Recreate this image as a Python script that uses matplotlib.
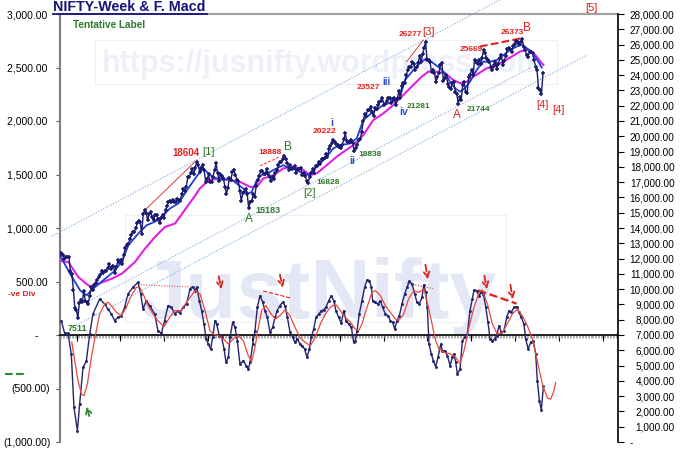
import numpy as np
import matplotlib.pyplot as plt

plt.rcParams['font.family'] = ['Liberation Sans', 'DejaVu Sans']

# weekly close of NIFTY, first point = week of 10 Jan 2020 (week index 0)
price = [12257, 12352, 12248, 11962, 12098, 12113, 12080, 11202, 10989, 9955,
         8745, 8660, 8084, 9112, 9267, 9154, 9860, 9252, 9137, 9040,
         9580, 10142, 9973, 10244, 10383, 10608, 10768, 10902, 11194, 11073,
         11214, 11178, 11372, 11647, 11333, 11464, 11505, 11050, 11417, 11914,
         11762, 11930, 11642, 12263, 12720, 12859, 12969, 13258, 13514, 13760,
         13749, 13982,
         14347, 14433, 14372, 13635, 14924, 15163, 14982, 14529, 14938, 15031,
         14744, 14507, 14867, 14834, 14617, 14341, 14631, 14823, 14678, 15175,
         15436, 15670, 15799, 15683, 15860, 15722, 15690, 15924, 15856, 15763,
         16238, 16529, 16450, 16705, 17324, 17369, 17585, 17853, 17532, 17895,
         18339, 18114, 17672, 17916, 18102, 17765, 17026, 17196, 17511, 16985,
         17004, 17354,
         17812, 18256, 17617, 17102, 17516, 17375, 17276, 16658, 16246, 16630,
         17287, 17153, 17670, 17784, 17476, 17172, 17102, 16411, 15782, 16266,
         16352, 16584, 16202, 15293, 15699, 15752, 16220, 16049, 16719, 17158,
         17398, 17698, 17758, 17559, 17539, 17833, 17531, 17327, 17094, 17315,
         17186, 17576, 17787, 18117, 18350, 18308, 18512, 18696, 18497, 18269,
         17806, 18105,
         17859, 17956, 18027, 17604, 17854, 17856, 17944, 17465, 17594, 17413,
         17100, 16945, 17360, 17599, 17828, 17624, 18065, 18069, 18315, 18203,
         18499, 18534, 18563, 18826, 18665, 19189, 19332, 19564, 19745, 19646,
         19517, 19428, 19310, 19265, 19435, 19820, 20192, 19674, 19638, 19653,
         19751, 19542, 19047, 19230, 19425, 19732, 19795, 20268, 20969, 21457,
         21349, 21731,
         21711, 21895, 21572, 21353, 21854, 21783, 22041, 22213, 22339, 22494,
         22023, 22097, 22327, 22514, 22519, 22147, 22420, 22476, 22055, 22467,
         22957, 22531, 23290, 23466, 23501, 24011, 24324, 24502, 24531, 24835,
         24718, 24368, 24541, 24823, 25236, 24852, 25357, 25791, 26179, 25015,
         24964, 24854, 24181, 24305, 24148, 23533, 23907, 24131, 24678, 24768,
         23588, 23814,
         24005, 23432, 23203, 23092, 23508, 23560, 22929, 22796, 22125, 22553,
         22397, 23350, 23519, 22904, 22829, 23852, 24039, 24347, 24008, 25020,
         24853, 24751, 25003, 24719, 25112, 25638, 25461, 25150, 24968, 24837,
         24565, 24363, 24631, 24870, 24427, 24741, 25114, 25327, 24655, 24894,
         25285, 25710, 25795, 25722, 25492, 25910, 26068, 26203, 26186, 26050,
         26150, 26370,
         25870, 25650, 25320, 25210, 25540, 25540, 25430, 25000, 24560, 24340,
         23140, 23030, 22770, 24120]
week = np.arange(len(price))

# short average (blue)
fast_wk = [0, 6.7, 13.5, 18, 21.3, 26.9, 35.9, 41.5, 46, 52.7, 58.3, 66.1, 74, 79.6,
           86.3, 92.5, 96.4, 100.9, 105.4, 109.9, 114.4, 118.9, 123.3, 126.7, 129,
           132.4, 136.8, 141.3, 145.8, 150.3, 154.8, 159.3, 163.7, 167.1, 170.5, 175,
           179.5, 183.9, 188.4, 195.2, 199.7, 204.1, 210.8, 217.6, 224.3, 228.8,
           232.2, 237.8, 243.4, 246.8, 251.2, 255.7, 259.1, 262.4, 265.8, 269.2,
           272.5, 275.9, 280.4, 284.9, 289.4, 293.9, 298.5, 303, 307.3, 310.7,
           314.1, 317.4, 319.6, 321.9, 324.2]
fast_val = [12215, 11015, 9920, 9594, 9950, 10400, 11120, 11780, 12870, 13640, 14180,
            14510, 15280, 15600, 16590, 17450, 17900, 17460, 17240, 17130, 17240,
            16910, 16590, 16260, 16360, 17130, 17570, 17670, 17900, 18110, 17900,
            17790, 17570, 17460, 17790, 18220, 18660, 19210, 19420, 19530, 19860,
            21060, 21610, 22040, 22260, 22590, 23680, 24340, 24880, 25110, 24780,
            24450, 24120, 23570, 23140, 22920, 23140, 23570, 24340, 24880, 24880,
            24990, 25320, 25650, 25870, 25980, 25760, 25540, 25210, 24880, 24500]

# long average (magenta)
slow_wk = [0, 5.6, 12.3, 19, 22, 26.1, 35, 41.7, 50.5, 57.2, 63.9, 70.6, 77.4, 84.1,
           90.8, 94.2, 97.6, 100.9, 107.7, 114.4, 121.1, 127.9, 132.4, 136.8, 143.6,
           150.3, 157.1, 163.8, 168.2, 172.7, 179.5, 186.2, 190.7, 197.4, 204.1,
           210.8, 217.6, 224.3, 231, 237.8, 243.4, 247.9, 253.5, 259.1, 264.7, 269.2,
           273.7, 278.2, 281.5, 287.1, 292.7, 298.3, 303.9, 309.5, 314.1, 317.4,
           320.8, 324.2, 325.3]
slow_val = [11850, 11780, 10790, 10250, 10150, 10360, 10690, 11020, 11780, 12650,
            13410, 14070, 14290, 15200, 16100, 16600, 16900, 17150, 17240, 17130,
            17020, 16690, 16690, 17240, 17460, 17900, 18000, 17790, 17460, 17570,
            18110, 18660, 18980, 19420, 20080, 21060, 21500, 22040, 22700, 23360,
            23900, 24230, 24230, 24120, 23680, 23470, 23570, 23900, 24100, 24450,
            24560, 24880, 25210, 25540, 25650, 25540, 25210, 24770, 24670]

# MACD (navy) and signal (red), left scale
macd_wk = [0.9, 3.1, 5.4, 7.6, 9.4, 11.7, 13.2, 15.5, 17.7, 20,
           22.2, 26.7, 30, 32.3, 34.5, 36.8, 39, 41.3, 43.5, 45.8,
           49.1, 52.5, 54.3, 55.9, 58.1, 60.3, 63.7, 65.9, 68.2, 70.4,
           72.7, 74.9, 77.2, 79.4, 80.8, 83, 85.2, 87.5, 89.3, 90.8,
           92, 93.8, 95.3, 96.9, 98.3, 99.8, 101.4, 102.7, 104.3, 105.4,
           107.2, 108.8, 110.4, 111.7, 113.3, 114.4, 116.2, 117.8, 119.3, 121.1,
           123.4, 125.2, 126.7, 127.9, 129.7, 131.2, 132.8, 134.6, 136.4, 138,
           139.5, 141.3, 143.1, 144.7, 146.2, 148, 149.8, 151.4, 153, 154.8,
           156.6, 158.1, 159.7, 161.5, 162.9, 164.6, 166.2, 167.8, 169.1, 170.7,
           172.3, 174.1, 175.9, 177.4, 179, 180.8, 182.6, 184.2, 185.7, 187.5,
           189.3, 190.9, 192.5, 194.3, 196.1, 197.6, 198.7, 199.9, 201.4, 203.2,
           205, 206.6, 208.2, 209.5, 210.4, 212.2, 214, 215.6, 217.1, 218.9,
           220.7, 222.3, 223.9, 225.2, 226.8, 228.4, 230.1, 232, 233.5, 235.1,
           236.9, 238.7, 240.2, 241.8, 243.6, 244.8, 246.1, 247.2, 248.3, 249.9,
           251.2, 252.8, 254.4, 256.2, 257.3, 258.9, 260.7, 262.5, 264, 265.1,
           266.3, 267.4, 269.2, 270.8, 272.3, 274.1, 275.9, 277.5, 278.6, 280.4,
           282, 283.5, 284.9, 286.5, 288, 289.4, 291, 292.5, 293.9, 295.4,
           297, 298.8, 300.6, 302.2, 303.7, 305.5, 307.3, 308.9, 310.4, 312.2,
           313.4, 315, 316.8, 318.5, 320.1, 321.2, 322.6, 323.9, 325.3]
macd_val = [134, 16, 16, -178, -677, -895, -646, -303, -246, 9,
            197, 337, 290, 243, 197, 134, 165, 181, 259, 384,
            446, 493, 384, 243, 321, 275, 197, 41, 16, 134,
            275, 259, 197, 228, 210, 259, 290, 431, 452, 415,
            446, 321, 228, 103, -37, -84, -131, -22, 134, 103,
            -6, -22, -131, -256, -209, -22, 119, 72, -53, -271,
            -240, -287, -318, -256, -84, 41, 259, 368, 306, 228,
            165, 25, 72, 165, 228, 275, 306, 275, 165, 25,
            -22, -69, -37, -84, -100, -131, -209, -131, -22, 56,
            165, 197, 228, 234, 259, 321, 368, 321, 228, 165,
            109, 228, 134, 103, 72, -69, -53, 41, 197, 321,
            446, 515, 509, 446, 321, 306, 290, 321, 259, 197,
            181, 134, 119, 56, 134, 181, 290, 384, 446, 502,
            477, 384, 306, 290, 353, 470, 400, 259, -84, -178,
            -240, -296, -209, -84, -147, -147, -193, -287, -209, -178,
            -256, -365, -318, -53, -22, 9, 228, 337, 421, 415,
            368, 399, 384, 259, 119, -37, -53, -37, -6, 87,
            25, 41, 165, 228, 212, 259, 265, 212, 165, 103,
            -37, -131, -69, -53, -178, -427, -615, -700, -480]

sig_wk = [7.9, 12.1, 14.4, 16.2, 18.4, 21.1, 23.8, 26.7, 30.1, 32.3,
          34.5, 37.9, 41.3, 44.6, 48, 51.4, 53.6, 55.9, 59.2, 62.6,
          65.9, 70, 73.8, 77.2, 80.8, 85.2, 90.8, 94.2, 97.6, 100.9,
          103.2, 106.5, 109.9, 113.3, 116.6, 120, 123.4, 126.7, 129, 131.2,
          133.5, 135.7, 138.6, 141.3, 144.7, 148, 151.4, 154.8, 158.1, 161.5,
          164.9, 168.5, 171.8, 175.2, 178.6, 181.9, 185.3, 188.6, 192, 195.4,
          198.7, 201, 203.2, 206.6, 209.9, 212.2, 215.6, 218.9, 222.3, 225.7,
          227.9, 231.3, 234.6, 238, 241.4, 245, 249.4, 252.8, 255, 258.4,
          262.9, 266.3, 269.2, 271.9, 275.2, 278.6, 282, 284.2, 287.6, 291,
          294.3, 297.7, 301, 304.4, 307.8, 311.1, 314.5, 317.9, 321.2, 324.6,
          328, 330.2, 332.4, 333.6]
sig_val = [-66, -427, -552, -568, -459, -209, -6, 197, 290, 306,
           275, 212, 181, 259, 368, 446, 446, 384, 275, 197,
           134, 78, 165, 228, 220, 306, 415, 384, 228, 41,
           9, -6, -37, -84, -37, -6, -53, -193, -246, -115,
           72, 228, 275, 212, 150, 181, 234, 181, 72, -22,
           -69, -100, -22, 103, 197, 259, 290, 228, 165, 119,
           56, 41, 103, 259, 399, 415, 368, 275, 212, 150,
           134, 197, 337, 415, 399, 430, 165, -53, -131, -162,
           -178, -209, -265, -147, 72, 259, 399, 421, 290, 103,
           9, 25, 103, 197, 243, 181, 87, -37, -240, -459,
           -590, -599, -521, -443]

RED = '#e0201c'
GRN = '#2f7a2a'
BLU = '#3050d0'
CH = '#7aa6dc'

fig = plt.figure(figsize=(6.8, 4.62), dpi=100)
ax = fig.add_axes([60 / 680, 20 / 462, 558 / 680, 428 / 462])
ax.patch.set_visible(False)
ax2 = ax.twinx()

# watermarks with their faint frames
ax.text(323 / 680, 1 - 72 / 462, 'https://jusnifty.wordpress.com', transform=fig.transFigure,
        fontsize=22, fontweight='bold', color='#eef0f9', ha='center', va='baseline', zorder=0)
ax.text(318 / 680, 1 - 318 / 462, 'JustNifty', transform=fig.transFigure,
        fontsize=60, fontweight='bold', color='#e4e8f6', ha='center', va='baseline', zorder=0)
fig.add_artist(plt.Rectangle((95 / 680, 1 - 84 / 462), 462 / 680, 44 / 462, fill=False,
                             ec='#f0f0f0', lw=0.8, zorder=-1))
fig.add_artist(plt.Rectangle((125 / 680, 1 - 322 / 462), 381 / 680, 107 / 462, fill=False,
                             ec='#f0f0f0', lw=0.8, zorder=-1))

# macd on the left scale
ax.plot(macd_wk, macd_val, color='#25256e', lw=1, marker='.', ms=2.2, zorder=3)
ax.plot(sig_wk, sig_val, color='#e84a3c', lw=0.9, zorder=3)
ax.set_xlim(0, 375.5)
ax.set_ylim(-1000, 3000)


def left_fmt(v, pos):
    if v == 0:
        return '-    '
    if v < 0:
        return '({:,.2f})'.format(-v)
    return '{:,.2f} '.format(v)


def right_fmt(v, pos):
    if v == 0:
        return '-' + ' ' * 15
    return '{:,.2f}'.format(v)


ax.set_yticks(np.arange(-1000, 3001, 500))
ax.yaxis.set_major_formatter(plt.FuncFormatter(left_fmt))
ax.tick_params(axis='y', length=3, color='#555555', pad=3.9, labelsize=7.5)
ax.set_xticks(np.arange(11.2, 376, 29.5))
ax.set_xticks(np.arange(0, 376, 1), minor=True)
ax.tick_params(axis='x', which='major', length=4, color='black', labelbottom=False)
ax.tick_params(axis='x', which='minor', length=2.5, color='#8c8c8c', width=0.5)
ax.spines['bottom'].set_position(('data', 0))
ax.spines['bottom'].set_linewidth(1.2)
ax.spines['left'].set_color('#808080')
ax.spines['left'].set_linewidth(1.6)
ax.spines['top'].set_color('#a0a0a0')
ax.spines['top'].set_linewidth(1.5)
ax.spines['right'].set_visible(False)

# price and averages on the right scale
ax2.plot(slow_wk, slow_val, color='#e020e0', lw=1.5, zorder=3)
ax2.plot(fast_wk, fast_val, color='#1f3fd6', lw=1.3, zorder=4)
ax2.plot(week, price, color='#1a1a6e', lw=1, marker='+', ms=3.5, mew=1.1, zorder=5)
ax2.set_ylim(0, 28000)
ax2.set_yticks(np.arange(0, 28001, 1000))
ax2.yaxis.set_major_formatter(plt.FuncFormatter(right_fmt))
ax2.tick_params(axis='y', length=4, color='black', pad=36.7, labelsize=7.2)
plt.setp(ax2.get_yticklabels(), ha='right')
for s in ['top', 'left', 'bottom']:
    ax2.spines[s].set_visible(False)
ax2.spines['right'].set_linewidth(1.2)

# channel lines
chan = dict(color=CH, lw=0.8, ls=(0, (1, 1.5)), clip_on=False, zorder=2)
ax2.plot([-5.6, 296.1], [13460, 28925], **chan)
ax2.plot([18, 316.3], [9135, 24469], **chan)
ax2.plot([10.8, 354.6], [7628, 25321], **chan)

# trend lines on price
ax2.plot([57.2, 90.8], [15170, 18330], color=RED, lw=0.6)
ax2.plot([134.6, 148], [18070, 18660], color=RED, lw=0.6, ls='--')
ax2.plot([233.3, 244.5], [24880, 26300], color=RED, lw=0.6)
ax2.plot([282.6, 310.7], [25870, 26415], color=RED, lw=1.5, ls='--')


def lab(a, s, x, y, c, fs, w='bold'):
    a.text(x, y, s, color=c, fontsize=fs, fontweight=w, ha='center', va='center',
           clip_on=False, zorder=6)


lab(ax2, '18604', 84.6, 18880, RED, 7)
lab(ax2, '[1]', 99.6, 18985, GRN, 8, 'normal')
lab(ax2, '18888', 141.3, 18945, RED, 6)
lab(ax2, 'B', 153.6, 19310, GRN, 8.5, 'normal')
lab(ax2, '15183', 140.2, 15120, GRN, 6.5)
lab(ax2, 'A', 127.4, 14575, GRN, 8.5, 'normal')
lab(ax2, '[2]', 168.2, 16300, GRN, 8, 'normal')
lab(ax2, '16828', 180.6, 16950, GRN, 6)
lab(ax2, '20222', 178.3, 20340, RED, 6)
lab(ax2, 'i', 182.8, 20885, BLU, 7.5)
lab(ax2, 'ii', 197, 18395, BLU, 7.5)
lab(ax2, '18838', 208.6, 18815, GRN, 6)
lab(ax2, '23527', 207.5, 23205, RED, 6)
lab(ax2, 'iii', 219.8, 23570, BLU, 7)
lab(ax2, 'iv', 231, 21605, BLU, 7.5)
lab(ax2, '21281', 241.1, 21935, GRN, 6)
lab(ax2, '26277', 235.5, 26630, RED, 6)
lab(ax2, '[3]', 247.8, 26850, RED, 8, 'normal')
lab(ax2, 'A', 267, 21390, RED, 8.5, 'normal')
lab(ax2, '21744', 281.5, 21720, GRN, 6)
lab(ax2, '25669', 277, 25650, RED, 6)
lab(ax2, '26373', 304.5, 26810, RED, 6)
lab(ax2, 'B', 314.2, 27070, RED, 8.5, 'normal')
lab(ax2, '[4]', 324.8, 22045, RED, 8, 'normal')
lab(ax2, '[4]', 335.3, 21720, RED, 8, 'normal')
lab(ax2, '[5]', 357.8, 28380, RED, 8, 'normal')
lab(ax2, '7511', 11.6, 7450, GRN, 6.5)
ax2.text(8.8, 27290, 'Tentative Label', color=GRN, fontsize=7.2, fontweight='bold',
         ha='left', va='center')

# macd divergence marks
ax.plot([52.7, 88.6], [471, 448], color=RED, lw=0.7, ls=':')
ax.plot([136.8, 155.3], [411, 345], color=RED, lw=0.8, ls='--')
ax.plot([233.2, 251.1], [486, 433], color=RED, lw=0.8, ls=':')
ax.plot([281.5, 307.3], [417, 293], color=RED, lw=1.6, ls='--')

arr = dict(arrowstyle='->', color=RED, lw=1.3, ls='--')
for x0, y0, x1, y1 in [(106.5, 574, 108.8, 402), (147.6, 589, 150.3, 417),
                       (245.6, 682, 247.8, 495), (285.3, 579, 287.6, 402),
                       (302.8, 495, 305, 308)]:
    ax.annotate('', xy=(x1, y1), xytext=(x0, y0), arrowprops=arr, zorder=6)
ax.annotate('', xy=(17.5, -643), xytext=(20.2, -783),
            arrowprops=dict(arrowstyle='->', color='#2e8b2e', lw=1.3, ls='--'), zorder=6)

# title and margin notes
fig.text(53 / 680, 1 - 7 / 462, 'NIFTY-Week & F. Macd', fontsize=10.3, fontweight='bold',
         color='#14147a', ha='left', va='center')
fig.add_artist(plt.Line2D([53 / 680, 207 / 680], [1 - 14 / 462, 1 - 14 / 462],
                          color='#14147a', lw=1.3))
fig.text(21.7 / 680, 1 - 294.3 / 462, '-ve Div', fontsize=6, fontweight='bold', color=RED,
         ha='center', va='center')
fig.add_artist(plt.Line2D([5 / 680, 27 / 680], [1 - 374.3 / 462, 1 - 374.3 / 462],
                          color='#2e8b2e', lw=1.5, ls='--'))

fig.savefig('out.png', dpi=100)
